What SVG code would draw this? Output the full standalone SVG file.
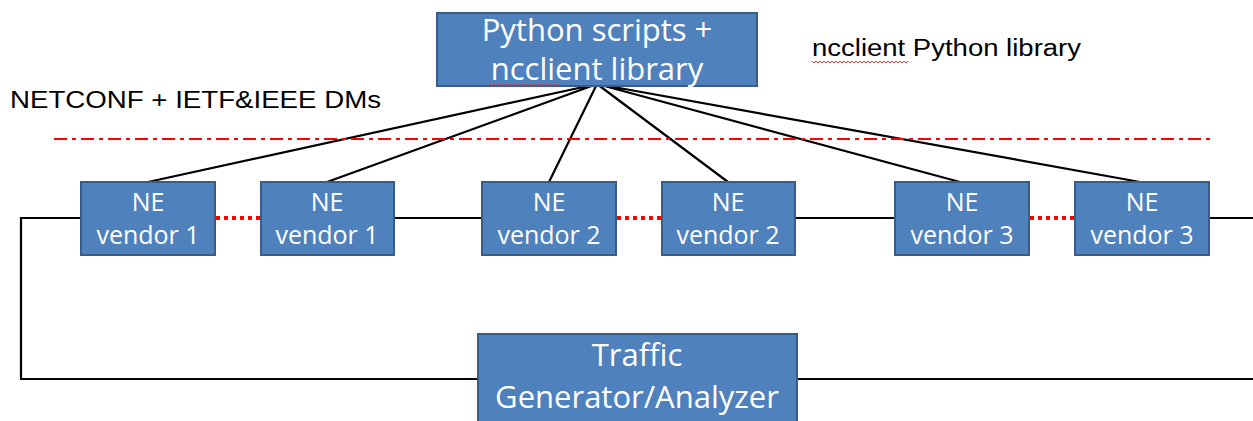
<svg xmlns="http://www.w3.org/2000/svg" width="1253" height="421" viewBox="0 0 1253 421">
<style>
.box{fill:#4F81BD;stroke:#385D8A;stroke-width:2}
.bt{fill:#fff;font-family:"Open Sans","Liberation Sans",sans-serif;text-anchor:middle}
.ne{font-size:25px}
.big{font-size:31px}
.lbl{fill:#000;font-family:"Liberation Sans",Arial,sans-serif}
.ln{stroke:#000;stroke-width:2.2;fill:none}
.red{stroke:#FF0000;stroke-width:4;stroke-dasharray:4 4;fill:none}
.sq{stroke:#E03030;stroke-width:1;fill:none}
</style>
<rect width="1253" height="421" fill="#fff"/>
<g id="connectors">
<path class="ln" d="M597,84 L148,182 M597,84 L327,182 M597,84 L549,182 M597,84 L728,182 M597,84 L960,182 M597,84 L1140,182"/>
<path class="ln" d="M80,218 H21 V379 H478 M797,379 H1253 M394,218 H482 M795,218 H895 M1209,218 H1253"/>
<path class="red" d="M216,218 H261 M617,218 H662 M1030,218 H1075"/>
<line x1="54" y1="139" x2="1210" y2="139" stroke="#FF0000" stroke-width="2" stroke-dasharray="13 5 4 5"/>
</g>
<g id="python">
<rect class="box" x="437" y="13" width="320" height="73"/>
<text class="bt big" x="597" y="41">Python scripts +</text>
<text class="bt big" x="597" y="80">ncclient library</text>
<path class="sq" d="M490,84 l2,2 l2,-2 l2,2 l2,-2 l2,2 l2,-2 l2,2 l2,-2 l2,2 l2,-2 l2,2 l2,-2 l2,2 l2,-2 l2,2 l2,-2 l2,2 l2,-2 l2,2 l2,-2 l2,2 l2,-2 l2,2 l2,-2 l2,2 l2,-2 l2,2 l2,-2 l2,2 l2,-2 l2,2 l2,-2 l2,2 l2,-2 l2,2 l2,-2"/>
</g>
<g id="ncclient-label">
<text class="lbl" x="812" y="56" font-size="23" textLength="269" lengthAdjust="spacingAndGlyphs">ncclient Python library</text>
<path class="sq" d="M812,61 l2,2 l2,-2 l2,2 l2,-2 l2,2 l2,-2 l2,2 l2,-2 l2,2 l2,-2 l2,2 l2,-2 l2,2 l2,-2 l2,2 l2,-2 l2,2 l2,-2 l2,2 l2,-2 l2,2 l2,-2 l2,2 l2,-2 l2,2 l2,-2 l2,2 l2,-2 l2,2 l2,-2 l2,2 l2,-2 l2,2 l2,-2 l2,2 l2,-2 l2,2 l2,-2 l2,2 l2,-2 l2,2 l2,-2 l2,2 l2,-2 l2,2 l2,-2 l2,2 l2,-2"/>
</g>
<g id="netconf-label">
<text class="lbl" x="10" y="108" font-size="24" textLength="371" lengthAdjust="spacingAndGlyphs">NETCONF + IETF&amp;IEEE DMs</text>
</g>
<g id="ne1"><rect class="box" x="81" y="182" width="134" height="73"/><text class="bt ne" x="148" y="211">NE</text><text class="bt ne" x="148" y="244">vendor 1</text></g>
<g id="ne2"><rect class="box" x="261" y="182" width="133" height="73"/><text class="bt ne" x="327" y="211">NE</text><text class="bt ne" x="327" y="244">vendor 1</text></g>
<g id="ne3"><rect class="box" x="482" y="182" width="134" height="73"/><text class="bt ne" x="549" y="211">NE</text><text class="bt ne" x="549" y="244">vendor 2</text></g>
<g id="ne4"><rect class="box" x="662" y="182" width="133" height="73"/><text class="bt ne" x="728" y="211">NE</text><text class="bt ne" x="728" y="244">vendor 2</text></g>
<g id="ne5"><rect class="box" x="895" y="182" width="134" height="73"/><text class="bt ne" x="962" y="211">NE</text><text class="bt ne" x="962" y="244">vendor 3</text></g>
<g id="ne6"><rect class="box" x="1075" y="182" width="134" height="73"/><text class="bt ne" x="1142" y="211">NE</text><text class="bt ne" x="1142" y="244">vendor 3</text></g>
<g id="traffic">
<rect class="box" x="478" y="334" width="319" height="100"/>
<text class="bt big" x="637" y="366">Traffic</text>
<text class="bt big" x="637" y="408">Generator/Analyzer</text>
</g>
</svg>
